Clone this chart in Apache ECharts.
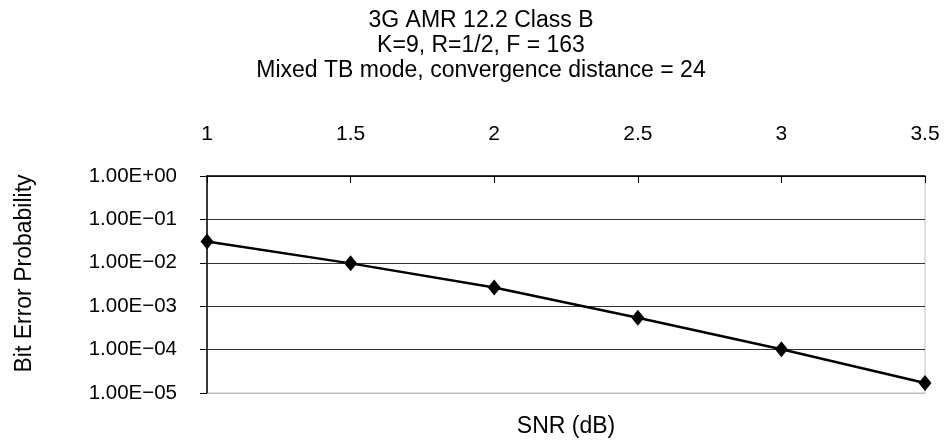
<!DOCTYPE html>
<html>
<head>
<meta charset="utf-8">
<script src="https://cdn.jsdelivr.net/npm/echarts@6/dist/echarts.min.js"></script>
<style>
html,body{margin:0;padding:0;background:#fff;}
#chart{width:945px;height:442px;}
</style>
</head>
<body>
<div id="chart"></div>
<script>
const titleLines = ['3G AMR 12.2 Class B', 'K=9, R=1/2, F = 163', 'Mixed TB mode, convergence distance = 24'];
const snr = [1, 1.5, 2, 2.5, 3, 3.5];
const ber = [3.1e-2, 9.7e-3, 2.7e-3, 5.4e-4, 1.02e-4, 1.7e-5];
const xName = 'SNR (dB)';
const yName = 'Bit Error Probability';

const FONT = '"Liberation Sans", Arial, Helvetica, sans-serif';

function sciLabel(v) {
  const e = Math.round(Math.log10(v));
  const m = v / Math.pow(10, e);
  const sign = e < 0 ? '\u2212' : '+';
  const ee = String(Math.abs(e)).padStart(2, '0');
  return m.toFixed(2) + 'E' + sign + ee;
}

const chart = echarts.init(document.getElementById('chart'), null, {renderer: 'canvas'});
chart.setOption({
  animation: false,
  backgroundColor: '#fff',
  title: {
    text: titleLines.join('\n'),
    left: 476,
    textAlign: 'center',
    top: 3.5,
    textStyle: {fontFamily: FONT, fontSize: 23, fontWeight: 'normal', color: '#000', lineHeight: 25}
  },
  grid: {left: 207, right: 20, top: 176, bottom: 49, show: true, borderColor: '#c0c0c0', borderWidth: 1},
  xAxis: [{
    type: 'value', position: 'top', min: 1, max: 3.5, interval: 0.5,
    axisLine: {show: true, lineStyle: {color: '#000', width: 1.5}},
    axisTick: {show: true, inside: true, length: 7, lineStyle: {color: '#000'}},
    axisLabel: {fontFamily: FONT, fontSize: 21, color: '#000', margin: 31},
    splitLine: {show: false}
  }, {
    type: 'value', position: 'bottom', min: 1, max: 3.5, interval: 0.5,
    name: xName, nameLocation: 'middle', nameGap: 22,
    nameTextStyle: {fontFamily: FONT, fontSize: 23, color: '#000'},
    axisLine: {show: true, lineStyle: {color: '#c0c0c0', width: 1}},
    axisTick: {show: false}, axisLabel: {show: false}, splitLine: {show: false}
  }],
  yAxis: {
    type: 'log', logBase: 10, min: 1e-5, max: 1,
    name: yName, nameLocation: 'middle', nameGap: 171, nameRotate: 90,
    nameTextStyle: {fontFamily: FONT, fontSize: 23, color: '#000', padding: [0, 0, 0, 22]},
    axisLine: {show: true, lineStyle: {color: '#000', width: 1.5}},
    axisTick: {show: true, length: 7, lineStyle: {color: '#000'}},
    axisLabel: {fontFamily: FONT, fontSize: 20.5, color: '#000', margin: 30, formatter: sciLabel},
    splitLine: {show: true, lineStyle: {color: '#333', width: 1}},
    minorTick: {show: false}
  },
  series: [{
    type: 'line', xAxisIndex: 0,
    data: snr.map((x, i) => [x, ber[i]]),
    symbol: 'diamond', symbolSize: [13, 16],
    lineStyle: {color: '#000', width: 2.5},
    itemStyle: {color: '#000'},
    clip: false
  }]
});
</script>
</body>
</html>
